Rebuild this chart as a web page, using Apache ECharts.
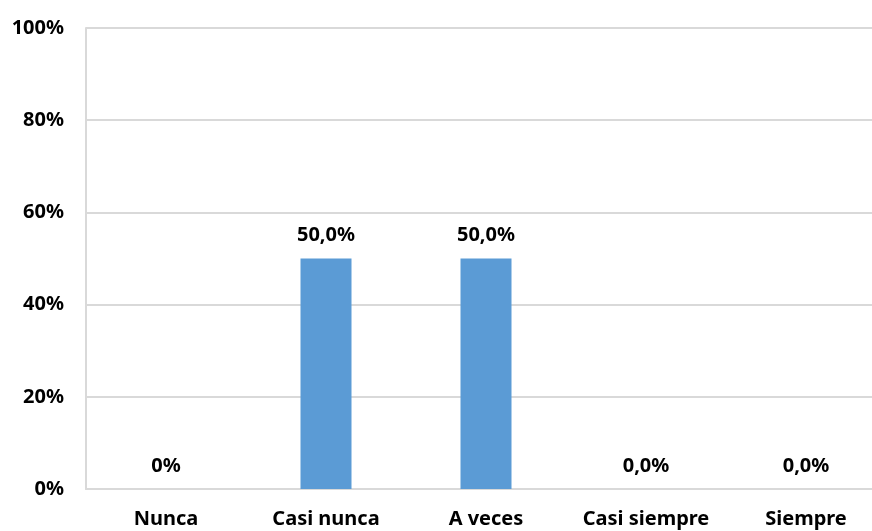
<!DOCTYPE html>
<html>
<head>
<meta charset="utf-8">
<script src="https://cdn.jsdelivr.net/npm/echarts@6/dist/echarts.min.js"></script>
<style>
  html, body { margin: 0; padding: 0; background: #ffffff; overflow: hidden; }
  /* canvas runs past the right edge of the window; the last category is cut off */
  #chart { width: 886px; height: 531px; }
</style>
</head>
<body>
<div id="chart"></div>
<script>
// Response frequency categories and their share of answers (percent)
const categories = ['Nunca', 'Casi nunca', 'A veces', 'Casi siempre', 'Siempre'];
const shares = [0, 50, 50, 0, 0];
// Text printed above each bar
const shareLabels = ['0%', '50,0%', '50,0%', '0,0%', '0,0%'];
const yTicks = [0, 20, 40, 60, 80, 100];

const FONT = '"Noto Sans", "Open Sans", sans-serif';
const chart = echarts.init(document.getElementById('chart'), null, { renderer: 'canvas' });

chart.setOption({
  animation: false,
  backgroundColor: '#ffffff',
  grid: { left: 86, top: 28, bottom: 42, right: 0, containLabel: false },
  xAxis: {
    type: 'category',
    data: categories,
    axisLine: { show: true, lineStyle: { color: '#d9d9d9', width: 2 } },
    axisTick: { show: false },
    axisLabel: {
      color: '#000000', fontFamily: FONT, fontWeight: 'bold', fontSize: 20,
      margin: 20, interval: 0
    }
  },
  yAxis: {
    type: 'value',
    min: yTicks[0],
    max: yTicks[yTicks.length - 1],
    interval: 20,
    axisLine: { show: true, lineStyle: { color: '#d9d9d9', width: 2 } },
    axisTick: { show: false },
    splitLine: { show: true, lineStyle: { color: '#d9d9d9', width: 2 } },
    axisLabel: {
      color: '#000000', fontFamily: FONT, fontWeight: 'bold', fontSize: 20,
      margin: 22,
      formatter: v => v + '%'
    }
  },
  series: [{
    type: 'bar',
    data: shares,
    barWidth: 51,
    itemStyle: { color: '#5b9bd5' },
    label: {
      show: true,
      position: 'top',
      distance: 13,
      color: '#000000', fontFamily: FONT, fontWeight: 'bold', fontSize: 20,
      formatter: p => shareLabels[p.dataIndex]
    }
  }]
});
</script>
</body>
</html>
